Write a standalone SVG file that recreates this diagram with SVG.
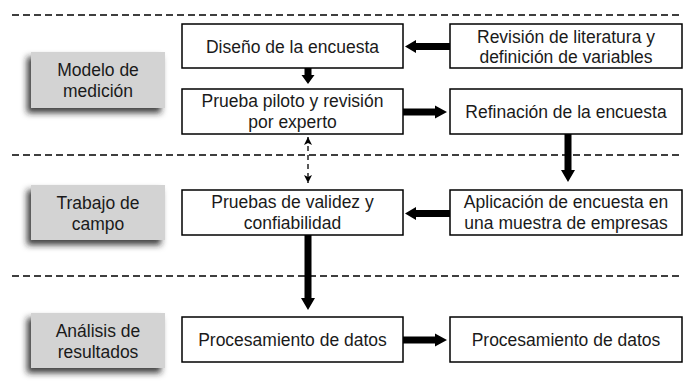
<svg xmlns="http://www.w3.org/2000/svg" width="683" height="386" viewBox="0 0 683 386">
<defs>
<filter id="sh" x="-20%" y="-20%" width="140%" height="150%">
<feDropShadow dx="-4" dy="5" stdDeviation="3" flood-color="#222" flood-opacity="0.85"/>
</filter>
<marker id="ah" viewBox="0 0 8 8" refX="8" refY="4" markerWidth="8" markerHeight="8" markerUnits="userSpaceOnUse" orient="auto-start-reverse">
<path d="M0,0 L8,4 L0,8 L2,4 Z" fill="#000"/>
</marker>
</defs>
<style>
.sep{stroke:#000;stroke-width:1.4;stroke-dasharray:7 4;fill:none}
.box{fill:#fff;stroke:#000;stroke-width:1.5}
.gbox{fill:#d3d3d3;filter:url(#sh)}
text{font-family:"Liberation Sans",Arial,sans-serif;font-size:17.5px;fill:#1a1a1a;text-anchor:middle}
.arr{fill:#000}
.dash{stroke:#000;stroke-width:1.3;stroke-dasharray:5 4;fill:none}
</style>
<rect width="683" height="386" fill="#fff"/>
<g id="separators">
<line class="sep" x1="12" y1="15" x2="683" y2="15"/>
<line class="sep" x1="12" y1="155" x2="683" y2="155"/>
<line class="sep" x1="12" y1="276" x2="683" y2="276"/>
</g>
<g id="phase-modelo">
<rect class="gbox" x="31" y="52" width="134" height="56"/>
<text x="98" y="76">Modelo de</text>
<text x="98" y="97">medición</text>
</g>
<g id="phase-trabajo">
<rect class="gbox" x="31" y="185" width="134" height="55"/>
<text x="98" y="209">Trabajo de</text>
<text x="98" y="230">campo</text>
</g>
<g id="phase-analisis">
<rect class="gbox" x="31" y="313" width="134" height="55"/>
<text x="98" y="337">Análisis de</text>
<text x="98" y="358">resultados</text>
</g>
<g id="n-diseno">
<rect class="box" x="182" y="24" width="221" height="44"/>
<text x="292.5" y="52.5">Diseño de la encuesta</text>
</g>
<g id="n-revision">
<rect class="box" x="450" y="24" width="232" height="44"/>
<text x="566" y="43">Revisión de literatura y</text>
<text x="566" y="63">definición de variables</text>
</g>
<g id="n-prueba">
<rect class="box" x="182" y="89" width="221" height="45"/>
<text x="292.5" y="107">Prueba piloto y revisión</text>
<text x="292.5" y="128">por experto</text>
</g>
<g id="n-refinacion">
<rect class="box" x="450" y="89" width="232" height="45"/>
<text x="566" y="118">Refinación de la encuesta</text>
</g>
<g id="n-pruebas">
<rect class="box" x="182" y="190" width="221" height="45"/>
<text x="292.5" y="208">Pruebas de validez y</text>
<text x="292.5" y="229">confiabilidad</text>
</g>
<g id="n-aplicacion">
<rect class="box" x="450" y="190" width="232" height="45"/>
<text x="566" y="208">Aplicación de encuesta en</text>
<text x="566" y="229">una muestra de empresas</text>
</g>
<g id="n-proc1">
<rect class="box" x="182" y="317" width="221" height="45"/>
<text x="292.5" y="346">Procesamiento de datos</text>
</g>
<g id="n-proc2">
<rect class="box" x="450" y="317" width="232" height="45"/>
<text x="566" y="346">Procesamiento de datos</text>
</g>
<g id="connectors">
<polygon class="arr" points="450,43 416,43 416,40 405,46.5 416,53 416,50 450,50"/>
<polygon class="arr" points="304.5,68 311.5,68 311.5,75 314.5,75 308,84 301.5,75 304.5,75"/>
<polygon class="arr" points="403,108.5 435,108.5 435,105.5 447,112 435,118.5 435,115.5 403,115.5"/>
<polygon class="arr" points="564.5,134 571.5,134 571.5,170 575,170 568,182 561,170 564.5,170"/>
<polygon class="arr" points="450,210 416,210 416,207 405,213.5 416,220 416,217 450,217"/>
<polygon class="arr" points="304.5,235 311.5,235 311.5,298 315,298 308,310 301,298 304.5,298"/>
<polygon class="arr" points="403,336.5 435,336.5 435,333.5 447,340 435,346.5 435,343.5 403,343.5"/>
<line class="dash" x1="308" y1="137" x2="308" y2="183" marker-start="url(#ah)" marker-end="url(#ah)"/>
</g>
</svg>
